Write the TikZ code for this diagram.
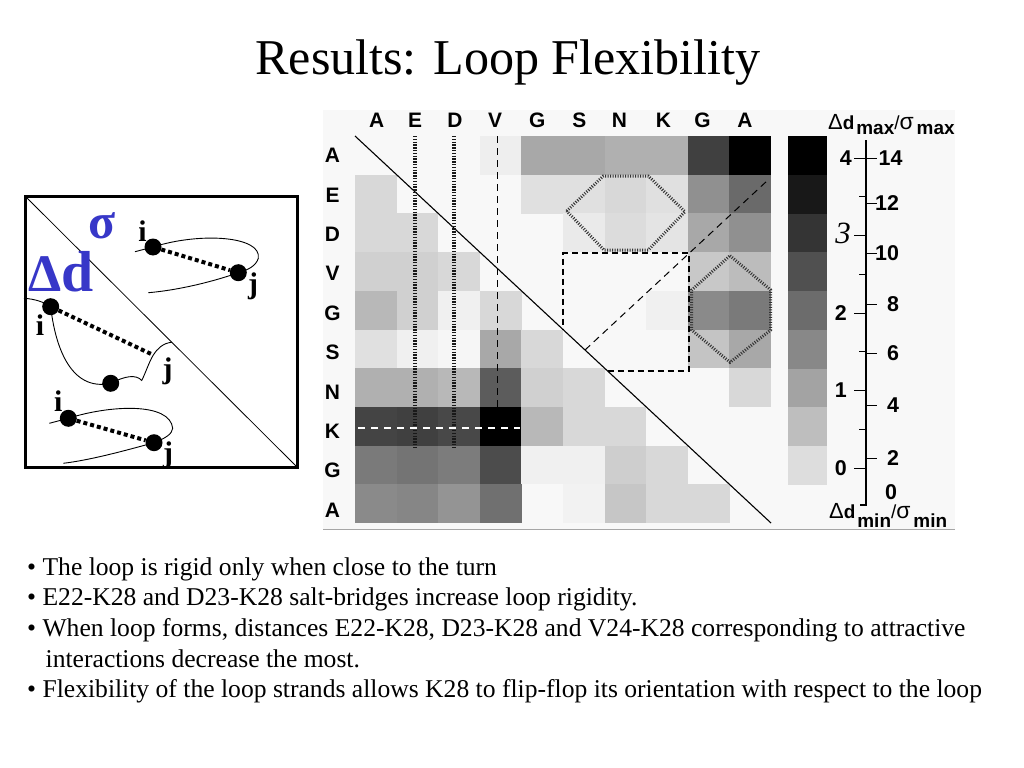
\documentclass[tikz,border=0pt]{standalone}
\usepackage{fontspec}
\setmainfont{Liberation Serif}
\newfontfamily\hsans{Liberation Sans}
\definecolor{sigblue}{RGB}{55,55,200}
\definecolor{panelbg}{RGB}{248,248,248}
\begin{document}
\begin{tikzpicture}[x=1bp,y=-1bp,
  dot/.style={circle,fill=black,inner sep=0pt,minimum size=17bp},
  bond/.style={line width=4bp,dash pattern=on 4bp off 3bp},
  chain/.style={line width=0.9bp},
  ijlab/.style={font=\fontsize{30}{30}\bfseries\selectfont,inner sep=0pt},
  hlab/.style={font=\hsans\fontsize{21}{21}\bfseries\selectfont,inner sep=0pt},
  alab/.style={font=\hsans\fontsize{21.5}{21.5}\bfseries\selectfont,inner sep=0pt},
  ladder/.style={line width=4.5bp,dash pattern=on 1.3bp off 1.5bp,draw=black!90},
  hexline/.style={line width=3bp,dash pattern=on 1bp off 1.5bp,draw=black!80},
  boxdash/.style={line width=1.8bp,dash pattern=on 6bp off 4bp},
  thindash/.style={line width=1bp,dash pattern=on 7bp off 5bp},
  bul/.style={font=\fontsize{25.7}{25.7}\selectfont,anchor=base west,inner sep=0pt}
]
\useasboundingbox (0,0) rectangle (1024,768);
\fill[white] (0,0) rectangle (1024,768);

% title
\node[font=\fontsize{50.3}{50.3}\selectfont,anchor=base,inner sep=0pt] (title) at (508,74.3) {Results: Loop Flexibility};

% ---------- left sketch ----------
\draw[line width=3bp] (25.5,196.5) rectangle (297.5,467.5);
\draw[line width=0.8bp] (25.5,196.5) -- (297.5,467.5);
\node[text=sigblue,font=\fontsize{50}{50}\bfseries\selectfont,inner sep=0pt] (sigma) at (102.5,226) {σ};
\node[text=sigblue,anchor=base west,inner sep=0pt] (deltad) at (28,291) {\bfseries{\fontsize{53}{53}\selectfont Δ}{\fontsize{58}{58}\selectfont d}};

\coordinate (ti) at (153,247);
\coordinate (tj) at (238.3,272.7);
\coordinate (mi) at (50.7,306.7);
\coordinate (mb) at (110.7,383.3);
\coordinate (mj) at (153.3,355);
\coordinate (bi) at (68.3,418.3);
\coordinate (bj) at (154,442.7);

\draw[chain] (135,251.7) -- (ti) .. controls (200,232) and (262,236) .. (258.3,258.3)
   .. controls (256,266) and (248,270) .. (tj) .. controls (215,281) and (180,290) .. (148.3,292.7);
\draw[chain] (24,298.3) .. controls (35,299) and (44,302) .. (mi)
   .. controls (55,345) and (70,392) .. (mb)
   .. controls (125,376) and (136,374) .. (141.7,380.5)
   .. controls (146,372) and (149,362) .. (mj)
   .. controls (157,349) and (163,343) .. (171.7,342.3);
\draw[chain] (49.3,423.3) -- (bi) .. controls (110,405) and (170,402) .. (172.7,428.3)
   .. controls (172,434) and (166,438) .. (bj) .. controls (120,452) and (90,460) .. (63.3,463.3);

\node[dot] (tid) at (ti) {};
\node[dot] (tjd) at (tj) {};
\node[dot] (mid) at (mi) {};
\node[dot] (mbd) at (mb) {};
\node[dot] (bid) at (bi) {};
\node[dot] (bjd) at (bj) {};
\draw[bond] (tid) -- (tjd);
\draw[bond] (mid) -- (mj);
\draw[bond] (bid) -- (bjd);

\node[ijlab] (til) at (142.5,231) {i};
\node[ijlab] (tjl) at (253,286) {j};
\node[ijlab] (mil) at (40,325) {i};
\node[ijlab] (mjl) at (167.5,371) {j};
\node[ijlab] (bil) at (58.3,401) {i};
\node[ijlab] (bjl) at (168,455) {j};

% ---------- heat map panel ----------
\fill[panelbg] (323,110) rectangle (955,530);
\draw[black!35,line width=1bp] (323,529.5) -- (955,529.5);

\foreach \rowvals [count=\r from 0] in {
 {248,248,248,238,168,168,176,176,64,0},
 {216,248,248,248,224,224,216,224,144,106},
 {216,216,248,248,248,234,220,228,168,144},
 {208,208,216,248,248,248,248,248,200,188},
 {184,208,240,216,248,248,248,240,138,122},
 {224,240,246,168,216,248,248,248,196,168},
 {176,176,184,92,208,216,248,248,248,216},
 {68,64,72,0,184,216,216,248,248,248},
 {122,116,124,76,240,240,206,216,248,248},
 {138,134,148,112,248,242,198,216,216,248}}
{
  \foreach \v [count=\c from 0] in \rowvals {
    \ifnum\v<248
      \definecolor{cellc}{RGB}{\v,\v,\v}
      \fill[cellc] ({355+\c*41.6},{136+\r*38.7}) rectangle ++(41.75,38.85);
    \fi
  }
}

% overlays
\draw[line width=1.1bp] (355,136) -- (771,523);
\draw[ladder] (415,136) -- (415,447);
\draw[ladder] (454,136) -- (454,447);
\draw[line width=1.8bp,dash pattern=on 7bp off 5bp] (497.5,136) -- (497.5,447);
\draw[white,line width=2bp,dash pattern=on 7bp off 6bp] (358,427.7) -- (520,427.7);
\draw[boxdash] (607.6,370.7) -- (689,370.7) -- (689,253.3) -- (563,253.3) -- (563,329.5);
\draw[thindash] (585,350) -- (768,180);
\draw[hexline] (566.7,211) -- (603.3,176) -- (648.3,176) -- (685,211.7) -- (648.3,250) -- (604,250) -- cycle;
\draw[hexline] (730,255.7) -- (770.7,290) -- (770.7,330) -- (730,362.3) -- (691.7,330) -- (691.7,290) -- cycle;

% column and row labels
\foreach \lab/\x [count=\k] in {A/376.7,E/415,D/455,V/495,G/537.3,S/579.3,N/619.3,K/663.3,G/702.5,A/745}
  \node[hlab] (col\k) at (\x,120) {\lab};
\foreach \lab [count=\k from 0] in {A,E,D,V,G,S,N,K,G,A}
  \node[hlab] (row\k) at (332.5,{155.5+\k*39.4}) {\lab};

% colour bar
\foreach \v [count=\k from 0] in {0,24,52,80,108,136,163,190,221} {
  \definecolor{cellc}{RGB}{\v,\v,\v}
  \fill[cellc] (788,{136+\k*38.78}) rectangle ++(38.7,38.9);
}
\draw[line width=1.2bp] (866,140) -- (866,505) -- (860,505);
\foreach \y in {158,235.5,313,390.5,468} \draw[line width=1bp] (854,\y) -- (866,\y);
\foreach \y in {196.75,274.25,351.75,429.25} \draw[line width=1bp] (859,\y) -- (866,\y);
\foreach \y in {158,203,253,304,353,405,458} \draw[line width=1bp] (866,\y) -- (877,\y);

\node[alab,anchor=east] (l4) at (852,158) {4};
\node[font=\fontsize{31}{31}\itshape\selectfont,inner sep=0pt] (l3) at (843,233.5) {3};
\node[alab,anchor=east] (l2) at (847,313) {2};
\node[alab,anchor=east] (l1) at (847,390.5) {1};
\node[alab,anchor=east] (l0) at (847,468) {0};
\foreach \t/\x/\y [count=\k] in {14/890.5/158,12/887/203,10/887/253,8/893/304,6/893/353,4/893/405,2/893/458}
  \node[alab] (r\k) at (\x,\y) {\t};
\node[alab] (rzero) at (891,492.5) {0};

\node[anchor=base west,inner sep=0pt,font=\hsans\fontsize{19}{19}\selectfont] (cbtop) at (828,129)
  {{\fontsize{22}{22}\selectfont Δ}\textbf{d}\kern2bp\raisebox{-5bp}{\textbf{max}}/{\fontsize{23}{23}\selectfont σ}\kern3bp\raisebox{-5bp}{\textbf{max}}};
\node[anchor=base west,inner sep=0pt,font=\hsans\fontsize{19}{19}\selectfont] (cbbot) at (829,518)
  {{\fontsize{22}{22}\selectfont Δ}\textbf{d}\kern2bp\raisebox{-9bp}{\textbf{min}}/{\fontsize{23}{23}\selectfont σ}\kern3bp\raisebox{-9bp}{\textbf{min}}};

% ---------- bullets ----------
\node[bul] (b1) at (27,575) {• The loop is rigid only when close to the turn};
\node[bul] (b2) at (27,605.7) {• E22-K28 and D23-K28 salt-bridges increase loop rigidity.};
\node[bul] (b3) at (27,636.4) {• When loop forms, distances E22-K28, D23-K28 and V24-K28 corresponding to attractive};
\node[bul] (b4) at (45.5,667.1) {interactions decrease the most.};
\node[bul] (b5) at (27,697.8) {• Flexibility of the loop strands allows K28 to flip-flop its orientation with respect to the loop};
\end{tikzpicture}
\end{document}
